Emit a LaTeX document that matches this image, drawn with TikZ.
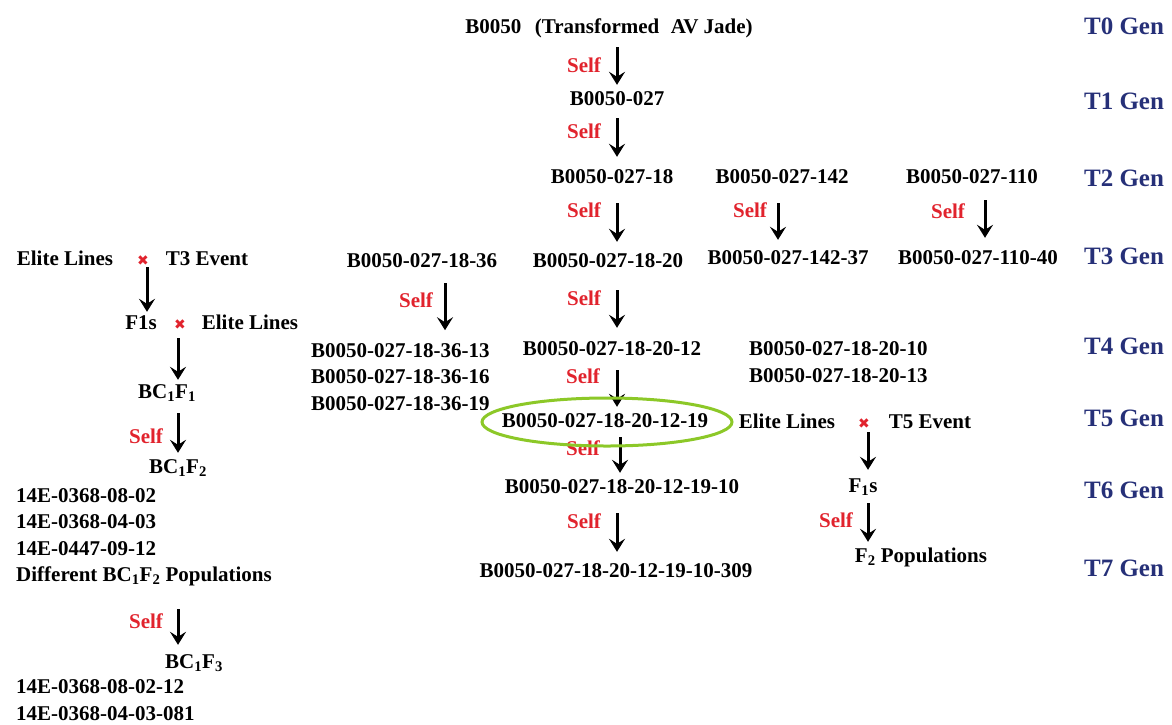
\documentclass[tikz,border=0pt]{standalone}
\usepackage{fontspec}
\setmainfont{Liberation Serif}
\newfontfamily\symfont{DejaVu Sans}
\usetikzlibrary{arrows.meta}
\definecolor{gennavy}{RGB}{38,48,120}
\definecolor{selfred}{RGB}{225,35,45}
\definecolor{ringgreen}{RGB}{140,200,40}
\tikzset{every picture/.style={x=1pt, y=-1pt}}
\tikzset{lbl/.style={font=\bfseries\fontsize{21}{26}\selectfont, inner sep=1pt, text height=14pt, text depth=4pt}}
\tikzset{lst/.style={font=\bfseries\fontsize{21}{26.5}\selectfont, inner sep=1pt, align=left, anchor=west}}
\tikzset{gen/.style={lbl, font=\bfseries\fontsize{25}{30}\selectfont, text height=17pt, text=gennavy}}
\tikzset{self/.style={lbl, text=selfred}}
\tikzset{cross/.style={font=\symfont\fontsize{14}{15}\selectfont, inner sep=1pt, text height=10pt, text depth=0pt, text=selfred}}
\tikzset{arr/.style={line width=3pt, -{Stealth[length=13pt, width=16pt, inset=5pt]}}}
\tikzset{ring/.style={draw=ringgreen, line width=3pt}}

\begin{document}
\begin{tikzpicture}
\useasboundingbox (0,0) rectangle (1172,724);
\foreach \g/\y in {0/28,1/103,2/180,3/258,4/348,5/420,6/492,7/570}
  \node[gen] (g\g) at (1124,\y) {T\g\ Gen};

\node[lbl] (t0) at (609,28) {B0050\hspace{0.4em} (Transformed\hspace{0.3em} AV Jade)};
\node[lbl] (t1) at (617,100) {B0050-027};
\node[lbl] (t2a) at (612,178) {B0050-027-18};
\node[lbl] (t2b) at (782,178) {B0050-027-142};
\node[lbl] (t2c) at (972,178) {B0050-027-110};
\node[lbl] (t3a) at (422,262) {B0050-027-18-36};
\node[lbl] (t3b) at (608,262) {B0050-027-18-20};
\node[lbl] (t3c) at (788,259) {B0050-027-142-37};
\node[lbl] (t3d) at (978,259) {B0050-027-110-40};
\node[lst] (t4a) at (310,377) {B0050-027-18-36-13\\B0050-027-18-36-16\\B0050-027-18-36-19};
\node[lbl] (t4b) at (612,350) {B0050-027-18-20-12};
\node[lst] (t4c) at (748,362) {B0050-027-18-20-10\\B0050-027-18-20-13};
\node[lbl] (t5) at (605,422) {B0050-027-18-20-12-19};
\node[lbl] (el5) at (787,423) {Elite Lines};
\node[cross] (x5) at (864,423) {✖};
\node[lbl] (ev5) at (930,423) {T5 Event};
\node[lbl] (t6) at (622,488) {B0050-027-18-20-12-19-10};
\node[lbl] (f1r) at (863,487) {F\textsubscript{1}s};
\node[lbl] (t7) at (616,572) {B0050-027-18-20-12-19-10-309};
\node[lbl] (f2r) at (921,557) {F\textsubscript{2} Populations};

\node[lbl] (el3) at (65,260) {Elite Lines};
\node[cross] (x3) at (143,260) {✖};
\node[lbl] (ev3) at (207,260) {T3 Event};
\node[lbl] (f1l) at (141,324) {F1s};
\node[cross] (x3b) at (180,324) {✖};
\node[lbl] (el3b) at (250,324) {Elite Lines};
\node[lbl] (bc11) at (167,393) {BC\textsubscript{1}F\textsubscript{1}};
\node[lbl] (bc12) at (178,468) {BC\textsubscript{1}F\textsubscript{2}};
\node[lst] (lst1) at (15,537) {14E-0368-08-02\\14E-0368-04-03\\14E-0447-09-12\\Different BC\textsubscript{1}F\textsubscript{2} Populations};
\node[lbl] (bc13) at (194,663) {BC\textsubscript{1}F\textsubscript{3}};
\node[lst] (lst2) at (15,700) {14E-0368-08-02-12\\14E-0368-04-03-081};

\foreach \n/\x/\y in {a/584/67, b/584/133, c/584/212, d/750/212, e/948/213, f/416/302, g/584/300,
  h/583/378, i/583/450, j/584/523, k/836/522, l/146/438, m/146/623}
  \node[self] (s\n) at (\x,\y) {Self};

\draw[arr, shorten <=9pt, shorten >=5pt] (t0.south -| 617,0) -- (t1.north -| 617,0);
\draw[arr, shorten <=8pt, shorten >=11pt] (t1.south -| 617,0) -- (t2a.north -| 617,0);
\draw[arr, shorten <=15pt, shorten >=10pt] (t2a.south -| 617,0) -- (t3b.north -| 617,0);
\draw[arr, shorten <=15pt, shorten >=9pt] (t2b.south -| 778,0) -- (t3c.north -| 778,0);
\draw[arr, shorten <=12pt, shorten >=11pt] (t2c.south -| 985,0) -- (t3d.north -| 985,0);
\draw[arr, shorten <=11pt, shorten >=12pt] (t3a.south -| 445,0) -- (t4a.north -| 445,0);
\draw[arr, shorten <=18pt, shorten >=12pt] (t3b.south -| 617,0) -- (t4b.north -| 617,0);
\draw[arr, shorten <=10pt, shorten >=5pt] (t4b.south -| 617,0) -- (t5.north -| 617,0);
\draw[arr, shorten <=5pt, shorten >=5pt] (t5.south -| 620,0) -- (t6.north -| 620,0);
\draw[arr, shorten <=15pt, shorten >=10pt] (t6.south -| 617,0) -- (t7.north -| 617,0);
\draw[arr, shorten <=3pt, shorten >=7pt] (x5.south -| 868,0) -- (f1r.north -| 868,0);
\draw[arr, shorten <=6pt, shorten >=5pt] (f1r.south -| 868,0) -- (f2r.north -| 868,0);
\draw[arr, shorten <=1pt, shorten >=2pt] (x3.south -| 147,0) -- (f1l.north -| 147,0);
\draw[arr, shorten <=8pt, shorten >=3pt] (x3b.south -| 178,0) -- (bc11.north -| 178,0);
\draw[arr, shorten <=10pt, shorten >=5pt] (bc11.south -| 178,0) -- (bc12.north -| 178,0);
\draw[arr, shorten <=22pt, shorten >=8pt] (lst1.south -| 178,0) -- (bc13.north -| 178,0);

\draw[ring] ([xshift=2pt]t5.center) ellipse [x radius=125, y radius=24];
\end{tikzpicture}
\end{document}
